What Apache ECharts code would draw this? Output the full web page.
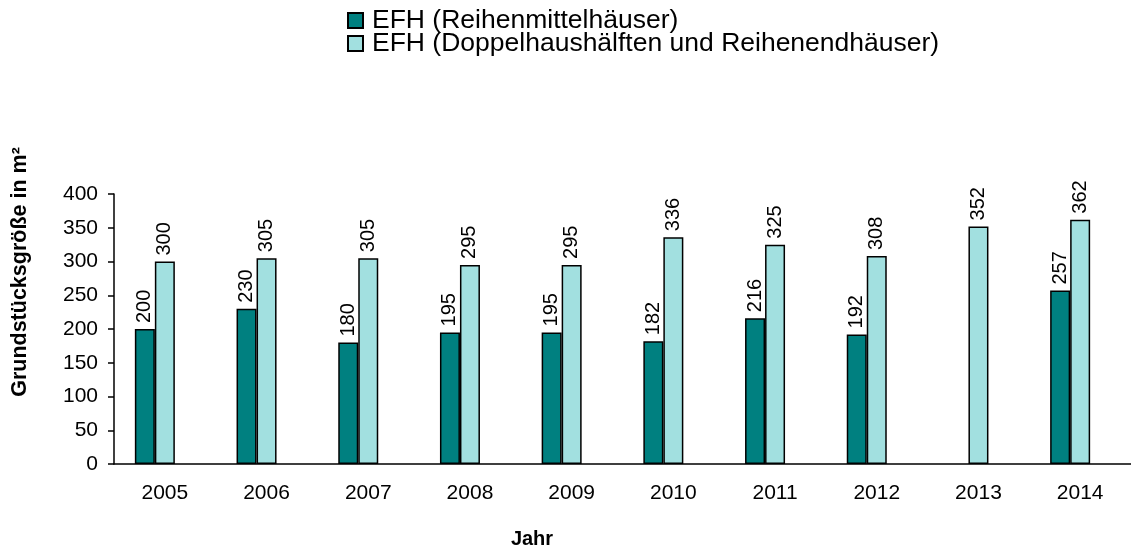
<!DOCTYPE html>
<html>
<head>
<meta charset="utf-8">
<script src="https://cdn.jsdelivr.net/npm/echarts@6/dist/echarts.min.js"></script>
<style>
  html, body { margin: 0; padding: 0; background: #ffffff; }
  #chart { width: 1131px; height: 546px; }
</style>
</head>
<body>
<div id="chart"></div>
<script>
const years = ["2005", "2006", "2007", "2008", "2009", "2010", "2011", "2012", "2013", "2014"];
const mittelhaus = [200, 230, 180, 195, 195, 182, 216, 192, null, 257];
const doppelhaus = [300, 305, 305, 295, 295, 336, 325, 308, 352, 362];
const yTicks = [0, 50, 100, 150, 200, 250, 300, 350, 400];

const FONT = "'Liberation Sans', Arial, sans-serif";

// beschriftung senkrecht über dem balken
const barLabel = {
  show: true,
  position: "top",
  rotate: 90,
  align: "left",
  verticalAlign: "middle",
  distance: 6,
  color: "#000",
  fontSize: 20,
  fontFamily: FONT
};

const chart = echarts.init(document.getElementById("chart"));
chart.setOption({
  animation: false,
  backgroundColor: "#ffffff",
  legend: {
    data: ["EFH (Reihenmittelhäuser)", "EFH (Doppelhaushälften und Reihenendhäuser)"],
    orient: "vertical",
    left: 347,
    top: 7,
    padding: 0,
    itemWidth: 15,
    itemHeight: 15,
    itemGap: -4,
    icon: "rect",
    textStyle: {
      color: "#000",
      fontSize: 26.5,
      fontFamily: FONT,
      padding: [0, 0, 0, 4]
    }
  },
  grid: { left: 114, right: -5, top: 194, bottom: 82 },
  xAxis: {
    type: "category",
    data: years,
    axisLine: { lineStyle: { color: "#000", width: 1.5 } },
    axisTick: { length: 6, lineStyle: { color: "#000", width: 1.5 } },
    axisLabel: { color: "#000", fontSize: 21, fontFamily: FONT, margin: 19 }
  },
  yAxis: {
    type: "value",
    min: yTicks[0],
    max: yTicks[yTicks.length - 1],
    interval: 50,
    splitLine: { show: false },
    axisLine: { show: true, lineStyle: { color: "#000", width: 1.5 } },
    axisTick: { show: true, length: 6, lineStyle: { color: "#000", width: 1.5 } },
    axisLabel: { color: "#000", fontSize: 21, fontFamily: FONT, margin: 16 }
  },
  graphic: [
    {
      type: "text",
      x: 20,
      y: 272,
      rotation: Math.PI / 2,
      style: {
        text: "Grundstücksgröße in m²",
        fill: "#000",
        font: "bold 21.5px " + FONT,
        align: "center",
        verticalAlign: "middle"
      }
    },
    {
      type: "text",
      x: 532,
      y: 539,
      style: {
        text: "Jahr",
        fill: "#000",
        font: "bold 20px " + FONT,
        align: "center",
        verticalAlign: "middle"
      }
    }
  ],
  series: [
    {
      name: "EFH (Reihenmittelhäuser)",
      type: "bar",
      data: mittelhaus,
      barWidth: 20,
      itemStyle: { color: "#008080", borderColor: "#000", borderWidth: 1.5 },
      label: barLabel
    },
    {
      name: "EFH (Doppelhaushälften und Reihenendhäuser)",
      type: "bar",
      data: doppelhaus,
      barWidth: 20,
      itemStyle: { color: "#a2e0e0", borderColor: "#000", borderWidth: 1.5 },
      label: barLabel
    },
    {
      // leere dritte reihe, schiebt die balken nach links wie im original
      name: "leer",
      type: "bar",
      data: [],
      barWidth: 20,
      barGap: 0
    }
  ]
});
</script>
</body>
</html>
